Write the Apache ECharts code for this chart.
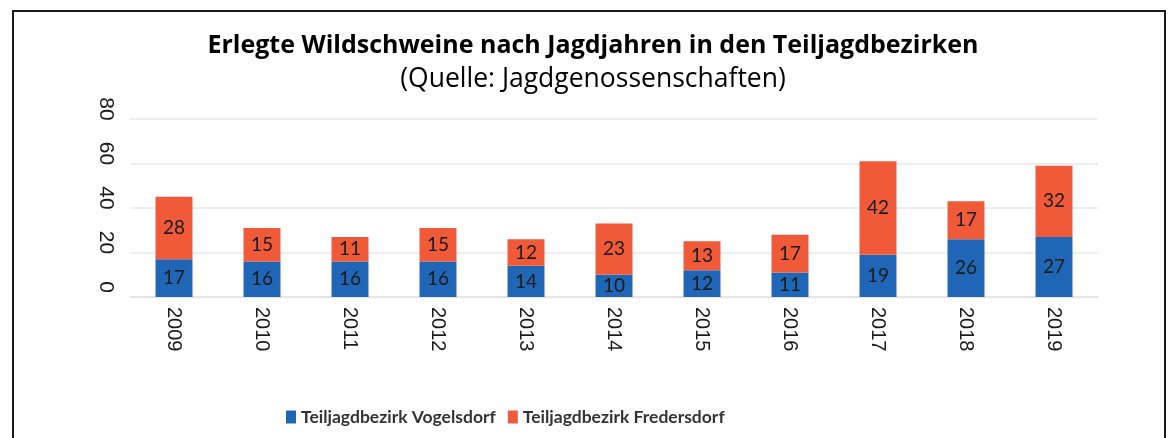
<!DOCTYPE html>
<html>
<head>
<meta charset="utf-8">
<script src="https://cdn.jsdelivr.net/npm/echarts@6/dist/echarts.min.js"></script>
<style>
html,body{margin:0;padding:0;background:#fff;}
#main{width:1169px;height:438px;}
</style>
</head>
<body>
<div id="main"></div>
<script>
const years = ['2009','2010','2011','2012','2013','2014','2015','2016','2017','2018','2019'];
const vogelsdorf = [17,16,16,16,14,10,12,11,19,26,27];
const fredersdorf = [28,15,11,15,12,23,13,17,42,17,32];
const yTicks = {min:0, max:80, interval:20};
const titleText = 'Erlegte Wildschweine nach Jagdjahren in den Teiljagdbezirken';
const subText = '(Quelle: Jagdgenossenschaften)';
const seriesNames = ['Teiljagdbezirk Vogelsdorf','Teiljagdbezirk Fredersdorf'];

const chart = echarts.init(document.getElementById('main'));
const labelStyle = {show:true, position:'inside', color:'#1a1a1a', fontSize:19, fontFamily:'Lato'};
chart.setOption({
  animation:false,
  backgroundColor:'#fff',
  graphic:[{type:'rect', shape:{x:13,y:11,width:1152,height:460}, style:{fill:'none', stroke:'#1a1a1a', lineWidth:2}}],
  title:{
    text:titleText, subtext:subText, left:588, textAlign:'center', top:28, itemGap:8,
    textStyle:{fontFamily:'Open Sans', fontWeight:'bold', fontSize:25, color:'#000'},
    subtextStyle:{fontFamily:'Open Sans', fontWeight:'normal', fontSize:26.5, color:'#000'}
  },
  legend:{
    data:seriesNames, left:281, top:403, itemWidth:10, itemHeight:13, itemGap:12,
    icon:'rect',
    textStyle:{fontFamily:'Lato', fontWeight:'bold', fontSize:17.5, color:'#333'}
  },
  grid:{left:130, right:71, top:119, bottom:141},
  xAxis:{
    type:'category', data:years,
    axisLine:{show:true, lineStyle:{color:'#e3e3e3', width:1.5}},
    axisTick:{show:false},
    axisLabel:{rotate:-90, margin:10, fontSize:20, color:'#1a1a1a', fontFamily:'Liberation Sans'}
  },
  yAxis:{
    type:'value', min:yTicks.min, max:yTicks.max, interval:yTicks.interval,
    axisLine:{show:false}, axisTick:{show:false},
    splitLine:{lineStyle:{color:'#e8e8e8', width:1.5}},
    axisLabel:{rotate:-90, margin:14, fontSize:21, color:'#1a1a1a', fontFamily:'Liberation Sans', padding:[0,20,0,0]}
  },
  series:[
    {name:seriesNames[0], type:'bar', stack:'a', data:vogelsdorf, barWidth:'42%', itemStyle:{color:'#1f67b6'}, label:labelStyle},
    {name:seriesNames[1], type:'bar', stack:'a', data:fredersdorf, barWidth:'42%', itemStyle:{color:'#f05a38'}, label:labelStyle}
  ]
});
</script>
</body>
</html>
